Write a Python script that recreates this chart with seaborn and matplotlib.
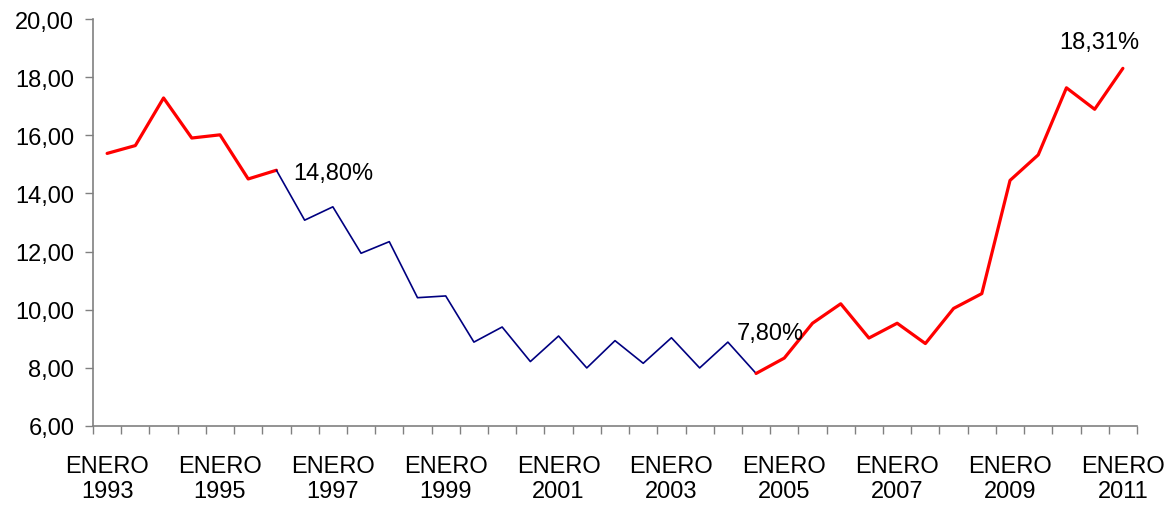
import matplotlib
matplotlib.use("Agg")
import matplotlib.pyplot as plt
import seaborn as sns
import pandas as pd
import numpy as np

# Semi-annual observations, January 1993 .. January 2011
values = [15.38, 15.65, 17.29, 15.91, 16.02, 14.50, 14.80,
          13.08, 13.54, 11.94, 12.34, 10.41, 10.47, 8.88, 9.40,
          8.21, 9.09, 7.99, 8.93, 8.15, 9.03, 7.99, 8.88, 7.80,
          8.33, 9.53, 10.20, 9.02, 9.53, 8.83, 10.04, 10.55,
          14.45, 15.33, 17.64, 16.90, 18.31]
label_years = ["1993", "1995", "1997", "1999", "2001", "2003",
               "2005", "2007", "2009", "2011"]
annotations = ["14,80%", "7,80%", "18,31%"]
annot_idx = [6, 23, 36]
segments = [(0, 6, "#FF0000"), (6, 23, "#000080"), (23, 36, "#FF0000")]

sns.set_theme(style="white")
plt.rcParams["font.family"] = ["Liberation Sans", "DejaVu Sans"]

df = pd.DataFrame({"x": np.arange(len(values)), "y": values})

fig = plt.figure(figsize=(11.73, 5.06), dpi=100)
ax = fig.add_axes([0.0793, 0.1567, 0.89, 0.8032])

for a, b, c in segments:
    seg = df.iloc[a:b + 1]
    lw = 1.2 if c == "#000080" else 2.3
    sns.lineplot(data=seg, x="x", y="y", color=c, linewidth=lw, ax=ax,
                 legend=False, errorbar=None)

FS = 17
ax.set_xlim(-0.5, len(values) - 0.5)
ax.set_ylim(6, 20)
ax.set_yticks(np.arange(6, 20.01, 2))
ax.set_yticklabels([f"{v:.2f}".replace(".", ",") for v in np.arange(6, 20.01, 2)],
                   fontsize=FS)

major_pos = list(range(0, len(values), 4))
ax.set_xticks(major_pos)
ax.set_xticklabels([f"ENERO\n{y}" for y in label_years], fontsize=FS,
                   linespacing=1.2)
ax.set_xticks(np.arange(-0.5, len(values), 1), minor=True)
ax.tick_params(axis="x", which="major", length=0, pad=21, labelcolor="black")
ax.tick_params(axis="x", which="minor", length=5.5, width=1, color="#808080",
               direction="out", bottom=True)
ax.tick_params(axis="y", which="major", length=5.5, width=1, color="#808080",
               direction="out", left=True, pad=8, labelcolor="black")

ax.set_xlabel("")
ax.set_ylabel("")
for s in ["top", "right"]:
    ax.spines[s].set_visible(False)
for s in ["left", "bottom"]:
    ax.spines[s].set_color("#808080")
    ax.spines[s].set_linewidth(1.2)

offsets = [(0.6, -0.1), (-0.7, 1.4), (-2.25, 0.9)]
for txt, i, (dx, dy) in zip(annotations, annot_idx, offsets):
    ax.text(i + dx, values[i] + dy, txt, fontsize=FS, ha="left", va="center",
            color="black")

fig.savefig("out.png", dpi=100)
